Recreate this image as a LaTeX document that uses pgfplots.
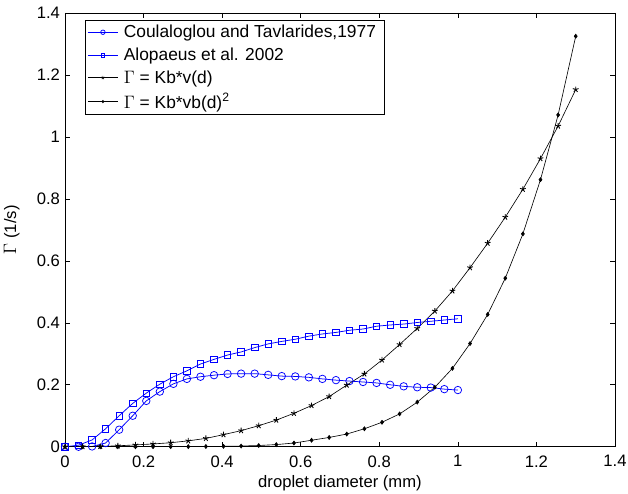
\documentclass[border=0pt]{standalone}
\usepackage{fontspec}
\setmainfont{Liberation Sans}
\usepackage{pgfplots}
\pgfplotsset{compat=1.18}

% droplet diameter (mm) vs breakage frequency (1/s)
\pgfplotstableread{
d      g
0.0000 0
0.0345 0
0.0690 0.001
0.1034 0.012
0.1379 0.055
0.1724 0.100
0.2069 0.148
0.2414 0.178
0.2759 0.203
0.3103 0.219
0.3448 0.226
0.3793 0.231
0.4138 0.235
0.4483 0.236
0.4828 0.236
0.5172 0.232
0.5517 0.228
0.5862 0.227
0.6207 0.224
0.6552 0.219
0.6897 0.215
0.7241 0.212
0.7586 0.209
0.7931 0.206
0.8276 0.200
0.8621 0.195
0.8966 0.192
0.9310 0.191
0.9655 0.186
1.0000 0.183
}\coulaloglou

\pgfplotstableread{
d      g
0.0000 0
0.0345 0.005
0.0690 0.022
0.1034 0.058
0.1379 0.100
0.1724 0.140
0.2069 0.173
0.2414 0.202
0.2759 0.226
0.3103 0.245
0.3448 0.267
0.3793 0.282
0.4138 0.296
0.4483 0.306
0.4828 0.320
0.5172 0.332
0.5517 0.340
0.5862 0.347
0.6207 0.357
0.6552 0.364
0.6897 0.369
0.7241 0.376
0.7586 0.380
0.7931 0.389
0.8276 0.393
0.8621 0.396
0.8966 0.401
0.9310 0.405
0.9655 0.409
1.0000 0.413
}\alopaeus

\pgfplotstableread{
d      g
0.0000 0
0.0448 0.0003
0.0897 0.001
0.1345 0.003
0.1793 0.006
0.2241 0.009
0.2690 0.013
0.3138 0.019
0.3586 0.027
0.4034 0.039
0.4483 0.052
0.4931 0.068
0.5379 0.086
0.5828 0.108
0.6276 0.133
0.6724 0.162
0.7172 0.199
0.7621 0.235
0.8069 0.280
0.8517 0.330
0.8966 0.382
0.9414 0.438
0.9862 0.503
1.0310 0.578
1.0759 0.657
1.1207 0.741
1.1655 0.831
1.2103 0.930
1.2552 1.035
1.3000 1.153
}\kbv

\pgfplotstableread{
d      g
0.0000 0
0.0448 0
0.0897 0
0.1345 0
0.1793 0
0.2241 0.0001
0.2690 0.0002
0.3138 0.0004
0.3586 0.0008
0.4034 0.0014
0.4483 0.0023
0.4931 0.004
0.5379 0.007
0.5828 0.012
0.6276 0.021
0.6724 0.030
0.7172 0.041
0.7621 0.058
0.8069 0.079
0.8517 0.106
0.8966 0.144
0.9414 0.192
0.9862 0.253
1.0310 0.333
1.0759 0.427
1.1207 0.544
1.1655 0.687
1.2103 0.862
1.2552 1.071
1.3000 1.325
}\kbvb

\begin{document}
\begin{tikzpicture}
% page frame: the axis box sits with its lower left corner at the origin
\useasboundingbox (-52pt,-37.6pt) rectangle (450.4pt,357.4pt);
\begin{axis}[
  at={(0,0)}, anchor=south west,
  scale only axis,
  width=440pt, height=347pt,
  xmin=0, xmax=1.4, ymin=0, ymax=1.4,
  xtick={0,0.2,...,1.4}, ytick={0,0.2,...,1.4},
  tick align=inside,
  major tick length=4pt,
  axis line style={line width=0.7pt},
  every tick/.style={black, line width=0.5pt},
  font=\fontsize{13.3}{15.5}\selectfont,
  /pgf/number format/assume math mode=true,
  xticklabel style={yshift=-3.5pt},
  yticklabel style={xshift=-0.5pt},
  xlabel={droplet diameter (mm)},
  ylabel={$\Gamma$ (1/s)},
  xlabel style={yshift=0pt},
  ylabel style={yshift=7pt},
  legend style={at={(rel axis cs:0.036,0.984)}, anchor=north west,
    draw=black, line width=0.5pt, fill=white,
    font=\fontsize{13.9}{15.5}\selectfont,
    nodes={inner xsep=4.5pt},
    row sep=2.6pt, inner xsep=2pt, inner ysep=1.8pt},
  legend cell align=left,
  legend image code/.code={%
    \draw[mark repeat=2,mark phase=2,mark options={scale=0.6}]
      plot coordinates {(0cm,0cm)(0.42cm,0cm)(0.84cm,0cm)};},
]
\addplot[blue, line width=0.6pt, mark=o, mark size=3pt, mark options={line width=0.6pt}]
  table[x=d, y=g] {\coulaloglou};
\addlegendentry{Coulaloglou and Tavlarides,1977}
\addplot[blue, line width=0.6pt, mark=square, mark size=2.6pt, mark options={line width=0.6pt}]
  table[x=d, y=g] {\alopaeus};
\addlegendentry{Alopaeus et al. 2002}
\addplot[black, line width=0.5pt, mark=star, mark size=2.4pt, mark options={line width=0.7pt}]
  table[x=d, y=g] {\kbv};
\addlegendentry{$\Gamma$ = Kb*v(d)}
\addplot[black, line width=0.5pt, mark=diamond*, mark size=1.6pt]
  table[x=d, y=g] {\kbvb};
\addlegendentry{$\Gamma$ = Kb*vb(d)\textsuperscript{2}}
\end{axis}
\end{tikzpicture}
\end{document}
